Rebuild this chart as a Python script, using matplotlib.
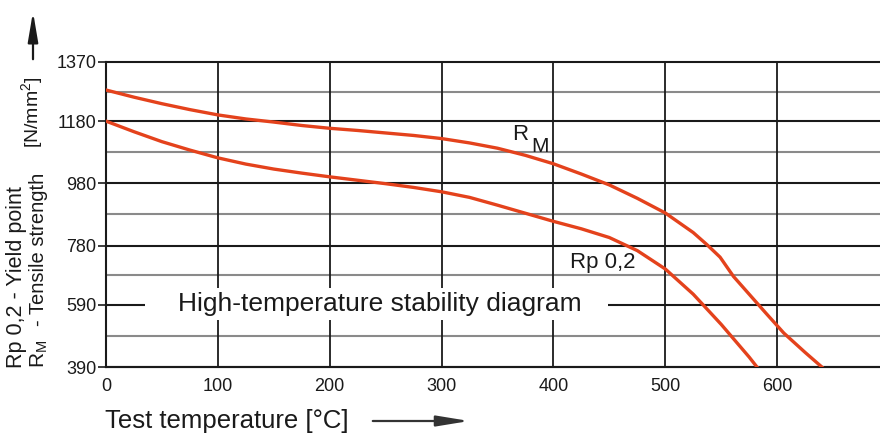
import matplotlib
matplotlib.use("Agg")
import matplotlib.pyplot as plt
from matplotlib.patches import Rectangle, FancyArrowPatch

plt.rcParams['font.family'] = ['Liberation Sans', 'DejaVu Sans']

# ---- data ----
rm_temp = [0, 25, 50, 75, 100, 125, 150, 175, 200, 225, 250, 275, 300, 325, 350, 375, 400,
           425, 450, 475, 500, 525, 537, 549, 561, 575, 590, 606, 625, 640]
rm_val = [1280, 1257, 1236, 1217, 1200, 1187, 1177, 1166, 1157, 1150, 1142, 1134, 1124, 1110,
          1093, 1070, 1043, 1010, 975, 932, 885, 822, 784, 743, 681, 624, 563, 499, 437, 390]

rp_temp = [0, 25, 50, 75, 100, 125, 150, 175, 200, 225, 250, 275, 300, 325, 350, 375, 400,
           425, 450, 475, 500, 525, 550, 575, 582]
rp_val = [1180, 1146, 1114, 1087, 1062, 1042, 1026, 1013, 1001, 990, 979, 967, 953, 935,
          910, 884, 858, 834, 806, 764, 705, 624, 527, 422, 390]

x_ticks = [0, 100, 200, 300, 400, 500, 600]
y_ticks = [390, 590, 780, 980, 1180, 1370]

W, H = 880, 434
fig = plt.figure(figsize=(W / 100, H / 100), dpi=100)
ax = fig.add_axes([106 / W, 1 - 367 / H, (W - 106) / W, 305 / H])
ax.set_xlim(0, 692)
ax.set_ylim(390, 1370)

dark = '#1a1a1a'
grey = '#8a8a8a'
red = '#e4421c'

# grid
for v in y_ticks:
    ax.axhline(v, color=dark, lw=1.5, zorder=1, clip_on=False)
mids = [(a + b) / 2 for a, b in zip(y_ticks[:-1], y_ticks[1:])]
for v in mids:
    ax.axhline(v, color=grey, lw=1.5, zorder=1)
for t in x_ticks:
    ax.axvline(t, color=dark, lw=1.3, zorder=1, clip_on=False)

# white box behind caption
ax.add_patch(Rectangle((35, 541), 414, 103, facecolor='white', edgecolor='none', zorder=2))
ax.text(245, 593, 'High-temperature stability diagram', ha='center', va='center',
        fontsize=19, color=dark, zorder=3)

# curves
ax.plot(rm_temp, rm_val, color=red, lw=2.4, zorder=4, solid_joinstyle='round')
ax.plot(rp_temp, rp_val, color=red, lw=2.4, zorder=4, solid_joinstyle='round')

# curve labels
ax.text(363, 1119, 'R', fontsize=16, color=dark, ha='left', va='baseline', zorder=5)
ax.text(380, 1081, 'M', fontsize=15, color=dark, ha='left', va='baseline', zorder=5)
ax.text(415, 708, 'Rp 0,2', fontsize=16, color=dark, ha='left', va='baseline', zorder=5)

# axes styling
for s in ['top', 'right']:
    ax.spines[s].set_visible(False)
ax.spines['left'].set_color(dark)
ax.spines['bottom'].set_color(dark)
ax.spines['left'].set_linewidth(1.5)
ax.spines['bottom'].set_linewidth(1.5)
ax.set_xticks(x_ticks)
ax.set_xticklabels([str(t) for t in x_ticks])
ax.set_yticks(y_ticks)
ax.set_yticklabels([str(t) for t in y_ticks])
ax.tick_params(axis='x', length=0, pad=8, labelsize=13, colors=dark)
ax.tick_params(axis='y', length=6, width=1.2, pad=1, labelsize=13, colors=dark)

# y axis label pieces
fig.text(17 / W, 1 - 368 / H, 'Rp 0,2 - Yield point', rotation=90, ha='center', va='bottom',
         fontsize=15.5, color=dark)
fig.text(39 / W, 1 - 368 / H, 'R$_\\mathregular{M}$', rotation=90, ha='center', va='bottom',
         fontsize=15, color=dark)
fig.text(39 / W, 1 - 326 / H, '- Tensile strength', rotation=90, ha='center', va='bottom',
         fontsize=14.5, color=dark)
fig.text(33 / W, 1 - 112 / H, '[N/mm$^\\mathregular{2}$]', rotation=90, ha='center', va='center',
         fontsize=14, color=dark)
fig.patches.append(FancyArrowPatch((33 / W, 1 - 62 / H), (33 / W, 1 - 9 / H),
                                   transform=fig.transFigure, figure=fig,
                                   arrowstyle='-|>,head_length=1.0,head_width=0.17',
                                   mutation_scale=18, color=dark, lw=1.6))

# x axis label
fig.text(105 / W, 1 - 421 / H, 'Test temperature [°C]', ha='left', va='center',
         fontsize=18.5, color=dark)
fig.patches.append(FancyArrowPatch((370 / W, 1 - 421 / H), (472 / W, 1 - 421 / H),
                                   transform=fig.transFigure, figure=fig,
                                   arrowstyle='-|>,head_length=1.1,head_width=0.18',
                                   mutation_scale=18, color='#333333', lw=1.6))

fig.savefig('out.png', dpi=100, facecolor='white')
